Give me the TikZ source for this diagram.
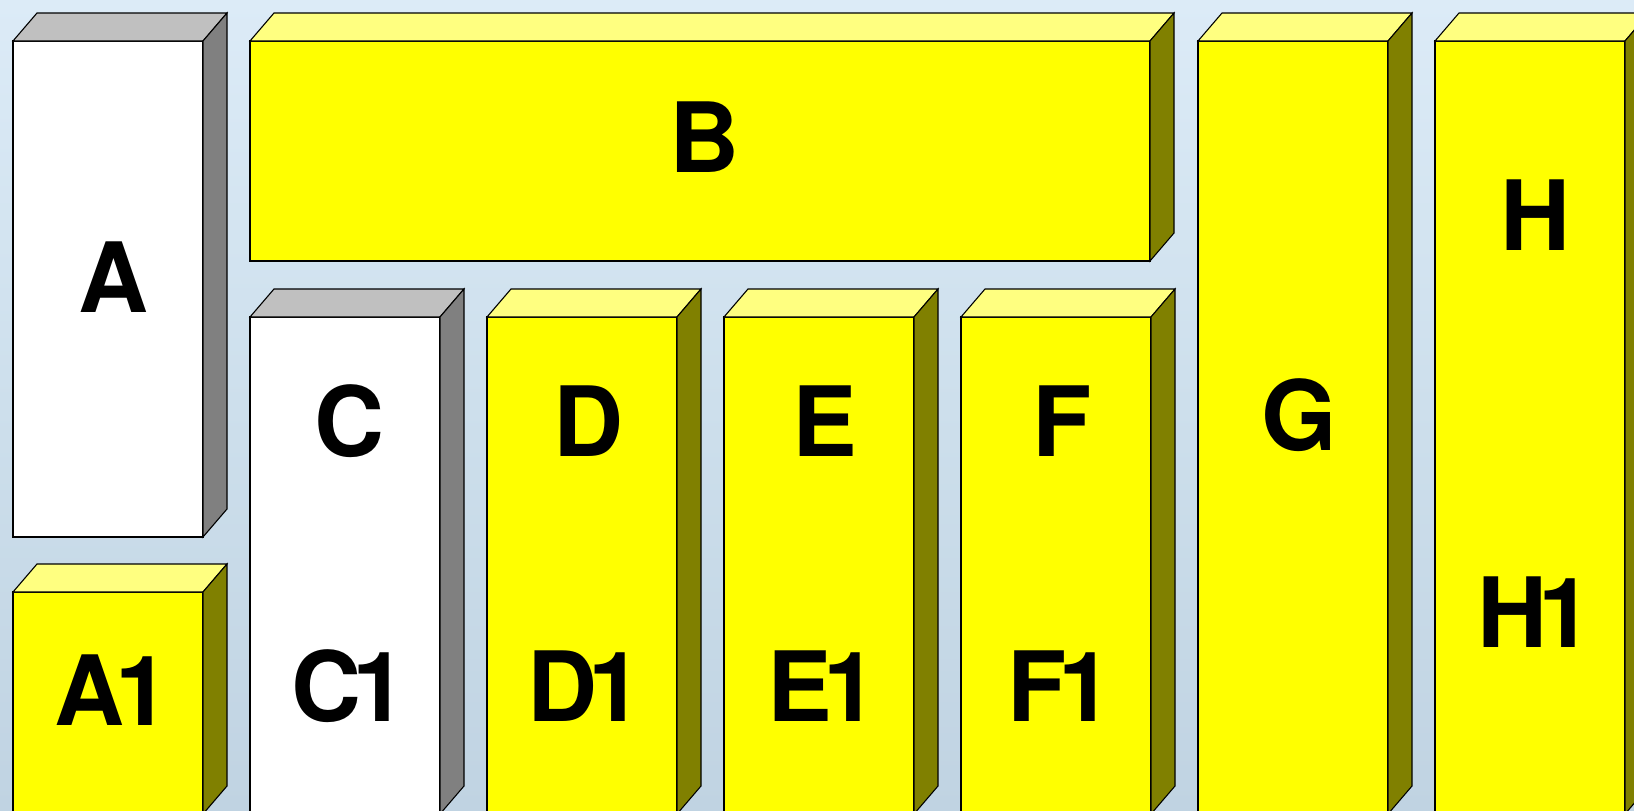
\documentclass[tikz,border=0pt]{standalone}
\usepackage{fontspec}
\setmainfont{TeX Gyre Heros}
\definecolor{bgtop}{RGB}{220,235,247}
\definecolor{bgmid}{RGB}{205,223,236}
\definecolor{bgbot}{RGB}{192,211,226}
\definecolor{yfront}{RGB}{255,255,0}
\definecolor{ytop}{RGB}{255,255,128}
\definecolor{yside}{RGB}{128,128,0}
\definecolor{wfront}{RGB}{255,255,255}
\definecolor{wtop}{RGB}{192,192,192}
\definecolor{wside}{RGB}{128,128,128}
\tikzset{
  face/.style={draw=black, line width=1.1pt, line join=miter},
  lbl/.style={anchor=base, inner sep=0pt, font=\fontsize{97}{97}\selectfont\bfseries},
}
\newcommand\cuboid[6]{%
  \node[face, fill=#6front, minimum width=#4pt, minimum height=#5pt, inner sep=0pt, outer sep=0pt, anchor=north west] (#1) at (#2,#3) {};
  \draw[face, fill=#6top] (#1.north west) -- ++(24,-28) -- ++(#4,0) -- (#1.north east) -- cycle;
  \draw[face, fill=#6side] (#1.north east) -- ++(24,-28) -- ++(0,#5) -- (#1.south east) -- cycle;
}
\newcommand\one{\kern-0.09em 1}
\begin{document}
\begin{tikzpicture}[x=1pt,y=-1pt]
\useasboundingbox (0,0) rectangle (1634,811);
\clip (0,0) rectangle (1634,811);
\shade[top color=bgtop, bottom color=bgbot, middle color=bgmid] (0,0) rectangle (1634,811);
\cuboid{boxA}{13}{41}{190}{496}{w}
\cuboid{boxAone}{13}{592}{190}{222}{y}
\cuboid{boxB}{250}{41}{900}{220}{y}
\cuboid{boxC}{250}{317}{190}{497}{w}
\cuboid{boxD}{487}{317}{190}{497}{y}
\cuboid{boxE}{724}{317}{190}{497}{y}
\cuboid{boxF}{961}{317}{190}{497}{y}
\cuboid{boxG}{1198}{41}{190}{773}{y}
\cuboid{boxH}{1435}{41}{190}{773}{y}
\node[lbl] (tA) at (114,312) {A};
\node[lbl] (tAone) at (112,725) {A\one};
\node[lbl] (tB) at (705,172) {B};
\node[lbl] (tC) at (350,456) {C};
\node[lbl] (tCone) at (349,721) {C\one};
\node[lbl] (tD) at (589,456) {D};
\node[lbl] (tDone) at (585,721) {D\one};
\node[lbl] (tE) at (825,456) {E};
\node[lbl] (tEone) at (822,721) {E\one};
\node[lbl] (tF) at (1062,456) {F};
\node[lbl] (tFone) at (1060,721) {F\one};
\node[lbl] (tG) at (1299,450) {G};
\node[lbl] (tH) at (1536,250) {H};
\node[lbl] (tHone) at (1535,647) {H\one};
\end{tikzpicture}
\end{document}
